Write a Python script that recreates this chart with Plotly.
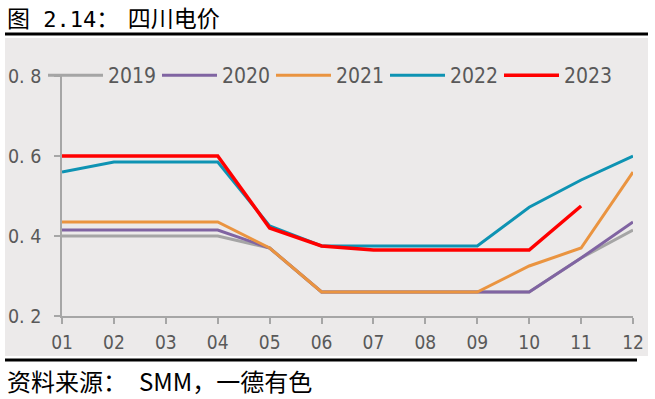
import plotly.graph_objects as go

months = ["01", "02", "03", "04", "05", "06", "07", "08", "09", "10", "11", "12"]
v2019 = [0.40, 0.40, 0.40, 0.40, 0.37, 0.26, 0.26, 0.26, 0.26, 0.26, 0.345, 0.415]
v2020 = [0.415, 0.415, 0.415, 0.415, 0.37, 0.26, 0.26, 0.26, 0.26, 0.26, 0.345, 0.435]
v2021 = [0.435, 0.435, 0.435, 0.435, 0.37, 0.26, 0.26, 0.26, 0.26, 0.325, 0.37, 0.56]
v2022 = [0.56, 0.585, 0.585, 0.585, 0.425, 0.375, 0.375, 0.375, 0.375, 0.472, 0.54, 0.60]
v2023 = [0.60, 0.60, 0.60, 0.60, 0.42, 0.375, 0.365, 0.365, 0.365, 0.365, 0.475]

series = [
    ("2019", v2019, "#A5A5A5", 3),
    ("2020", v2020, "#8064A2", 3),
    ("2021", v2021, "#EA9440", 3),
    ("2022", v2022, "#0E93B3", 3),
    ("2023", v2023, "#FF0000", 3.5),
]
ytickvals = [0.2, 0.4, 0.6, 0.8]
yticktext = ["0. 2", "0. 4", "0. 6", "0. 8"]

NUMFONT = "DejaVu Sans Condensed, Liberation Sans, Arial"

fig = go.Figure()
for name, vals, color, w in series:
    fig.add_trace(go.Scatter(x=months[:len(vals)], y=vals, mode="lines", name=name,
                             line=dict(color=color, width=w)))

L, R, T, B = 62, 22, 76, 83
W, H = 655, 399
pw, ph = W - L - R, H - T - B

def px(x):
    return (x - L) / pw

def py(y):
    return (H - B - y) / ph

MONO = "<span style='font-family:DejaVu Sans Mono;font-size:22px'>"
THIN = "<span style='font-family:DejaVu Sans Mono;font-size:14px'>"
title_text = "图" + MONO + "&nbsp;2.14</span>：" + THIN + "&nbsp;</span>四川电价"
source_text = "资料来源：\u2002SMM，一德有色"

fig.update_layout(
    width=W, height=H,
    margin=dict(l=L, r=R, t=T, b=B, pad=0, autoexpand=False),
    paper_bgcolor="white",
    plot_bgcolor="rgba(0,0,0,0)",
    showlegend=True,
    legend=dict(orientation="h", x=px(43), y=py(75.5), xanchor="left", yanchor="middle",
                font=dict(family=NUMFONT, size=21, color="#595959"),
                bgcolor="rgba(0,0,0,0)", entrywidth=44, entrywidthmode="pixels",
                itemwidth=55, tracegroupgap=0),
    xaxis=dict(type="category", range=[0, 11], showgrid=False, zeroline=False,
               showline=True, linecolor="#A6A6A6", linewidth=1.5,
               ticks="outside", ticklen=6, tickcolor="#A6A6A6", tickwidth=1.5,
               ticklabelstandoff=2,
               tickfont=dict(family=NUMFONT, size=19, color="#595959")),
    yaxis=dict(range=[0.2, 0.8], tickvals=ytickvals, ticktext=yticktext, showgrid=False,
               zeroline=False, showline=True, linecolor="#A6A6A6", linewidth=1.5,
               ticks="outside", ticklen=6, tickcolor="#A6A6A6", tickwidth=1.5,
               ticklabelstandoff=9,
               tickfont=dict(family=NUMFONT, size=19.5, color="#595959")),
    shapes=[
        dict(type="rect", xref="paper", yref="paper", x0=px(5), x1=px(648), y0=py(356), y1=py(38),
             fillcolor="#ECEAEA", line=dict(width=0), layer="below"),
        dict(type="line", xref="paper", yref="paper", x0=px(5), x1=px(648), y0=py(34), y1=py(34),
             line=dict(color="black", width=3)),
        dict(type="line", xref="paper", yref="paper", x0=px(5), x1=px(637), y0=py(360), y1=py(360),
             line=dict(color="black", width=3)),
    ],
    annotations=[
        dict(text=title_text, xref="paper", yref="paper", x=px(5), y=py(17),
             xanchor="left", yanchor="middle", showarrow=False,
             font=dict(family="Noto Sans CJK SC", size=23, color="black")),
        dict(text=source_text, xref="paper", yref="paper", x=px(5), y=py(380),
             xanchor="left", yanchor="middle", showarrow=False,
             font=dict(family="Noto Sans CJK SC", size=24, color="black")),
    ],
)

fig.write_html("out.html", config={"displayModeBar": False},
               post_script="document.body.style.margin='0px';document.body.style.overflow='hidden';")
